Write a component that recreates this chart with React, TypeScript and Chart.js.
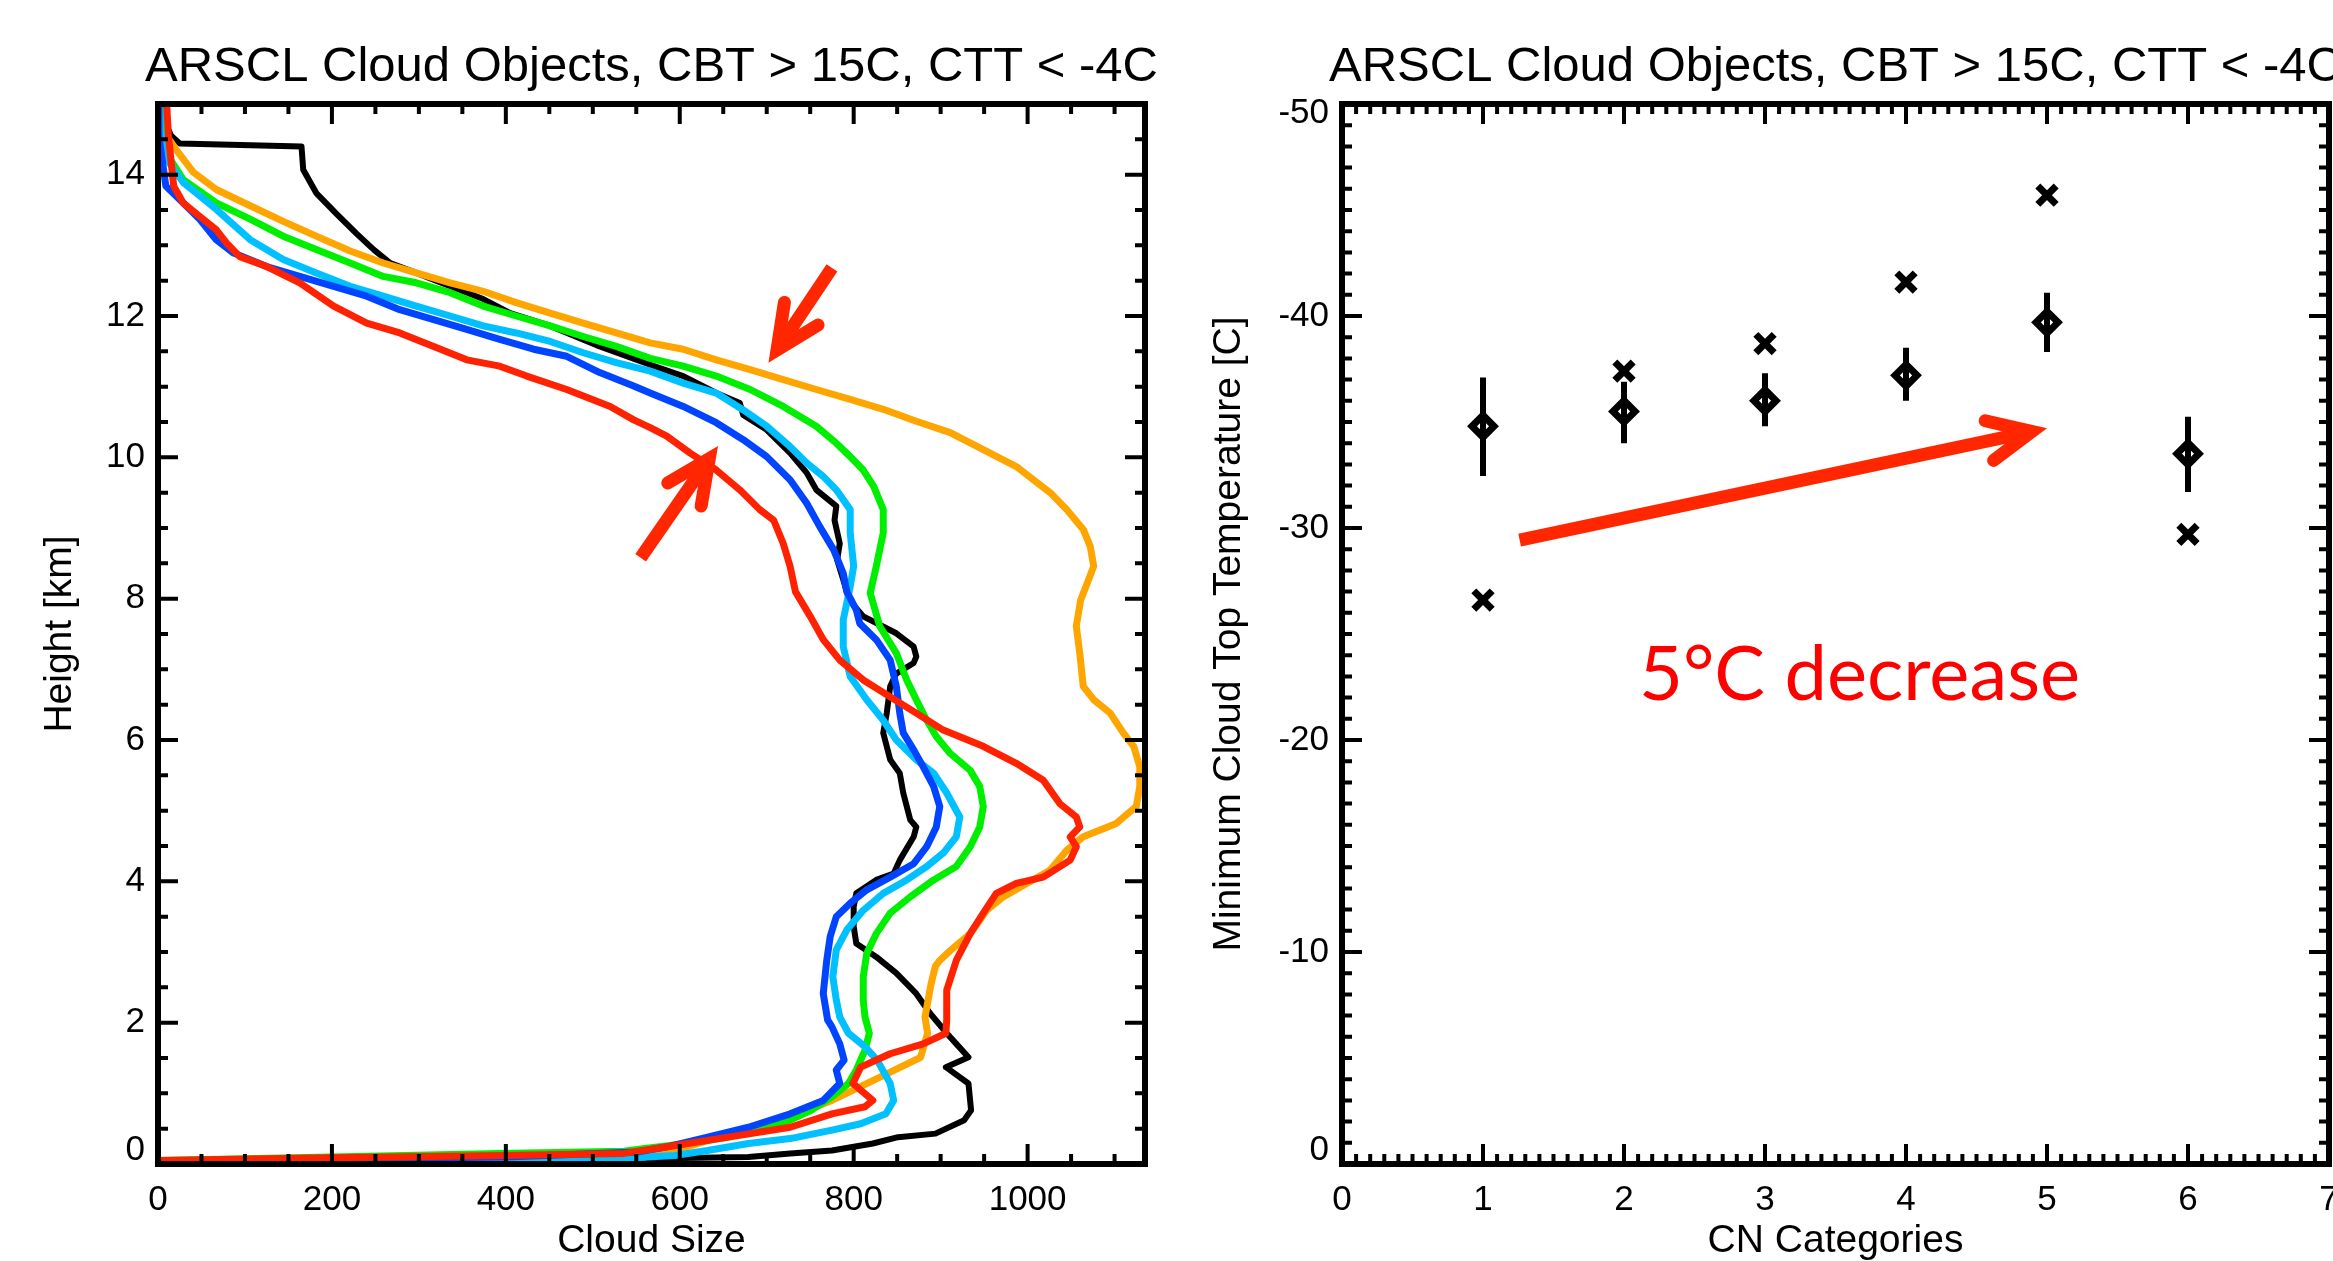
import React, { useEffect, useRef } from 'react';
import { Chart, registerables } from 'chart.js';

Chart.register(...registerables);

const FONT = '"Liberation Sans", Arial, Helvetica, sans-serif';
const PANEL_TITLE = 'ARSCL Cloud Objects, CBT > 15C, CTT < -4C';

// ---------- Left panel: cloud size profiles (size, height km) ----------
const blackSize = [3, 8, 15, 25, 165, 167, 182, 205, 228, 248, 267, 297, 336, 374, 405, 451, 508, 566, 604, 642, 669, 673, 700, 727, 746, 757, 780, 778, 784, 781, 788, 795, 811, 849, 869, 872, 869, 849, 842, 838, 834, 842, 853, 857, 865, 872, 869, 853, 846, 826, 803, 800, 800, 803, 826, 849, 872, 888, 907, 918, 932, 906, 932, 935, 927, 894, 851, 822, 775, 727, 679, 584, 300, 0];
const blackHeight = [15.0, 14.75, 14.55, 14.44, 14.40, 14.07, 13.74, 13.45, 13.17, 12.94, 12.75, 12.61, 12.42, 12.24, 12.04, 11.86, 11.57, 11.31, 11.15, 10.91, 10.77, 10.60, 10.39, 10.06, 9.78, 9.54, 9.31, 9.11, 8.78, 8.55, 8.27, 7.98, 7.75, 7.51, 7.32, 7.18, 7.09, 6.94, 6.76, 6.38, 6.10, 5.72, 5.53, 5.25, 4.87, 4.77, 4.63, 4.30, 4.11, 4.02, 3.83, 3.64, 3.36, 3.12, 2.93, 2.70, 2.41, 2.13, 1.85, 1.70, 1.51, 1.37, 1.14, 0.76, 0.62, 0.43, 0.38, 0.29, 0.19, 0.15, 0.10, 0.08, 0.05, 0.03];

const orangeSize = [6, 10, 21, 41, 67, 106, 144, 182, 221, 259, 297, 336, 374, 412, 451, 489, 527, 566, 604, 642, 681, 719, 757, 796, 834, 872, 911, 949, 987, 1007, 1026, 1045, 1064, 1072, 1076, 1068, 1061, 1056, 1060, 1064, 1076, 1095, 1110, 1122, 1129, 1129, 1125, 1102, 1064, 1045, 1026, 999, 972, 953, 934, 911, 899, 894, 889, 882, 885, 877, 822, 775, 727, 689, 632, 594, 560, 300, 0];
const orangeHeight = [15.0, 14.55, 14.35, 14.03, 13.79, 13.56, 13.34, 13.13, 12.92, 12.75, 12.61, 12.47, 12.35, 12.19, 12.04, 11.90, 11.76, 11.62, 11.53, 11.38, 11.24, 11.10, 10.96, 10.82, 10.68, 10.51, 10.35, 10.11, 9.87, 9.68, 9.50, 9.26, 8.98, 8.74, 8.46, 8.20, 7.98, 7.61, 7.23, 6.76, 6.57, 6.38, 6.10, 5.91, 5.62, 5.34, 5.06, 4.82, 4.63, 4.44, 4.16, 3.97, 3.78, 3.59, 3.26, 3.02, 2.88, 2.80, 2.55, 2.08, 1.85, 1.51, 1.18, 0.90, 0.67, 0.52, 0.33, 0.19, 0.10, 0.06, 0.04];

const greenSize = [4, 8, 14, 29, 67, 106, 144, 182, 221, 259, 297, 336, 374, 412, 451, 489, 527, 566, 604, 642, 681, 719, 757, 780, 796, 811, 823, 834, 834, 826, 819, 830, 849, 861, 872, 884, 895, 911, 934, 945, 949, 945, 934, 918, 892, 865, 842, 826, 815, 811, 811, 813, 818, 813, 803, 794, 775, 751, 727, 698, 656, 608, 560, 536, 393, 200, 0];
const greenHeight = [15.0, 14.6, 14.22, 13.93, 13.60, 13.37, 13.13, 12.94, 12.75, 12.56, 12.47, 12.33, 12.14, 12.00, 11.86, 11.71, 11.57, 11.40, 11.29, 11.15, 10.96, 10.72, 10.44, 10.20, 10.01, 9.82, 9.59, 9.26, 8.93, 8.46, 8.08, 7.61, 7.23, 6.85, 6.57, 6.28, 6.05, 5.81, 5.57, 5.34, 5.06, 4.77, 4.49, 4.21, 4.02, 3.78, 3.55, 3.26, 2.98, 2.65, 2.32, 2.08, 1.85, 1.61, 1.33, 1.14, 0.95, 0.76, 0.62, 0.52, 0.38, 0.29, 0.22, 0.18, 0.15, 0.10, 0.05];

const cyanSize = [2, 3, 10, 29, 48, 67, 106, 144, 182, 221, 259, 297, 336, 374, 412, 451, 489, 527, 566, 604, 642, 673, 700, 727, 746, 765, 780, 796, 796, 800, 796, 788, 788, 796, 815, 834, 849, 872, 892, 907, 922, 918, 903, 884, 861, 834, 811, 792, 780, 776, 780, 784, 794, 813, 827, 842, 846, 837, 808, 775, 727, 679, 632, 594, 536, 300, 0];
const cyanHeight = [15.0, 14.6, 14.22, 13.89, 13.70, 13.51, 13.08, 12.80, 12.61, 12.42, 12.28, 12.14, 12.00, 11.86, 11.76, 11.64, 11.48, 11.34, 11.22, 11.05, 10.91, 10.67, 10.44, 10.15, 9.92, 9.73, 9.54, 9.26, 8.93, 8.46, 8.17, 7.70, 7.32, 6.90, 6.57, 6.28, 6.00, 5.72, 5.53, 5.25, 4.91, 4.63, 4.40, 4.21, 4.02, 3.83, 3.59, 3.31, 3.03, 2.65, 2.32, 2.08, 1.85, 1.66, 1.47, 1.14, 0.90, 0.71, 0.57, 0.48, 0.36, 0.29, 0.19, 0.12, 0.08, 0.05, 0.04];

const blueSize = [0, 1, 9, 29, 48, 67, 87, 125, 163, 202, 240, 278, 317, 355, 393, 432, 470, 508, 547, 566, 604, 642, 673, 700, 727, 746, 761, 777, 788, 792, 803, 807, 826, 842, 849, 853, 857, 869, 880, 892, 899, 895, 884, 869, 842, 815, 796, 780, 773, 769, 765, 770, 775, 784, 789, 780, 784, 765, 727, 679, 632, 584, 551, 400, 0];
const blueHeight = [15.0, 14.55, 13.84, 13.60, 13.37, 13.08, 12.89, 12.70, 12.56, 12.42, 12.28, 12.09, 11.95, 11.81, 11.67, 11.53, 11.43, 11.20, 11.01, 10.91, 10.72, 10.49, 10.25, 10.01, 9.68, 9.35, 9.02, 8.69, 8.36, 8.10, 7.84, 7.65, 7.42, 7.13, 6.76, 6.38, 6.10, 5.86, 5.62, 5.34, 5.06, 4.77, 4.49, 4.25, 4.06, 3.88, 3.69, 3.50, 3.22, 2.88, 2.41, 2.04, 1.94, 1.70, 1.47, 1.33, 1.14, 0.90, 0.71, 0.52, 0.38, 0.24, 0.17, 0.10, 0.04];

const redSize = [10, 12, 18, 29, 48, 67, 79, 94, 125, 163, 202, 240, 278, 317, 355, 393, 424, 470, 520, 547, 566, 585, 612, 642, 669, 692, 708, 719, 727, 733, 750, 765, 784, 811, 842, 872, 903, 949, 987, 1018, 1037, 1056, 1060, 1049, 1056, 1049, 1018, 987, 964, 949, 934, 918, 907, 907, 906, 880, 842, 808, 799, 822, 813, 775, 727, 656, 584, 536, 400, 200, 0];
const redHeight = [15.0, 14.55, 13.84, 13.60, 13.41, 13.22, 13.03, 12.84, 12.70, 12.47, 12.14, 11.90, 11.76, 11.57, 11.38, 11.29, 11.15, 10.96, 10.72, 10.53, 10.42, 10.30, 10.06, 9.82, 9.54, 9.26, 9.11, 8.78, 8.45, 8.10, 7.75, 7.42, 7.13, 6.85, 6.61, 6.38, 6.14, 5.91, 5.67, 5.43, 5.10, 4.91, 4.77, 4.63, 4.49, 4.30, 4.06, 3.97, 3.83, 3.55, 3.26, 2.88, 2.46, 2.04, 1.85, 1.70, 1.56, 1.37, 1.14, 0.90, 0.81, 0.71, 0.52, 0.38, 0.24, 0.15, 0.12, 0.09, 0.05];

const leftXTicks = [0, 200, 400, 600, 800, 1000];
const leftYTicks = [0, 2, 4, 6, 8, 10, 12, 14];

// annotation arrows (data units of each panel)
const leftArrowTails = [[775, 12.68], [555, 8.58]];
const leftArrowTips = [[702, 11.34], [644, 10.16]];

// ---------- Right panel: CN categories ----------
const cnCategories = [1, 2, 3, 4, 5, 6];
const meanCTT = [-34.8, -35.5, -36.0, -37.2, -39.7, -33.5];
const errTop = [-37.1, -36.9, -37.3, -38.5, -41.1, -35.25];
const errBottom = [-32.45, -34.0, -34.8, -36.0, -38.3, -31.7];
const minCTT = [-26.6, -37.4, -38.7, -41.6, -45.7, -29.7];

const rightXTicks = [0, 1, 2, 3, 4, 5, 6, 7];
const rightYTicks = [-50, -40, -30, -20, -10, 0];

const rightArrowTails = [[1.26, -29.43]];
const rightArrowTips = [[5.0, -34.7]];

const noteText = '5°C decrease';
const notePos = [3.67, -21.88];

const ARROW_RED = '#ff2600';

function zip(xs: number[], ys: (number | null)[]) {
  return xs.map((x, i) => ({ x, y: ys[i] }));
}

function makeTitlePlugin(text: string) {
  return {
    id: 'panelTitle',
    afterDraw(chart: any) {
      const { ctx, chartArea: a } = chart;
      ctx.save();
      ctx.font = `49px ${FONT}`;
      ctx.fillStyle = '#000';
      ctx.textAlign = 'center';
      ctx.textBaseline = 'middle';
      ctx.fillText(text, (a.left + a.right) / 2, 67);
      ctx.restore();
    },
  };
}

// IDL-style y tick labels: kept inside the axis range at the ends
function makeYLabelPlugin(values: number[]) {
  return {
    id: 'yLabels',
    afterDraw(chart: any) {
      const { ctx, chartArea: a, scales } = chart;
      const ys = scales.y;
      ctx.save();
      ctx.font = `35px ${FONT}`;
      ctx.fillStyle = '#000';
      ctx.textAlign = 'right';
      ctx.textBaseline = 'middle';
      values.forEach((v) => {
        let py = ys.getPixelForValue(v);
        py = Math.max(a.top + 9, Math.min(a.bottom - 14, py));
        ctx.fillText(String(v), a.left - 13, py);
      });
      ctx.restore();
    },
  };
}

function makeFramePlugin(xMinor: number, yMinor: number, xMajor: number[], yMajor: number[]) {
  return {
    id: 'idlFrame',
    afterDatasetsDraw(chart: any) {
      const { ctx, chartArea: a, scales } = chart;
      const xs = scales.x;
      const ys = scales.y;
      const majorLen = 20;
      const minorLen = 10;
      ctx.save();
      ctx.strokeStyle = '#000';
      ctx.lineWidth = 4;
      ctx.lineCap = 'butt';
      const isMajor = (v: number, list: number[]) => list.some((m) => Math.abs(m - v) < 1e-6);
      const nx = Math.floor((xs.max - xs.min) / xMinor + 1e-6);
      for (let i = 0; i <= nx; i++) {
        const v = xs.min + i * xMinor;
        if (v > xs.max + 1e-9) break;
        const len = isMajor(v, xMajor) ? majorLen : minorLen;
        const px = xs.getPixelForValue(v);
        ctx.beginPath();
        ctx.moveTo(px, a.bottom);
        ctx.lineTo(px, a.bottom - len);
        ctx.moveTo(px, a.top);
        ctx.lineTo(px, a.top + len);
        ctx.stroke();
      }
      const lo = Math.min(ys.min, ys.max);
      const hi = Math.max(ys.min, ys.max);
      const ny = Math.floor((hi - lo) / yMinor + 1e-6);
      for (let i = 0; i <= ny; i++) {
        const v = lo + i * yMinor;
        const len = isMajor(v, yMajor) ? majorLen : minorLen;
        const py = ys.getPixelForValue(v);
        ctx.beginPath();
        ctx.moveTo(a.left, py);
        ctx.lineTo(a.left + len, py);
        ctx.moveTo(a.right, py);
        ctx.lineTo(a.right - len, py);
        ctx.stroke();
      }
      ctx.lineWidth = 6;
      ctx.strokeRect(a.left, a.top, a.right - a.left, a.bottom - a.top);
      ctx.restore();
    },
  };
}

function makeArrowPlugin(tails: number[][], tips: number[][]) {
  return {
    id: 'redArrows',
    afterDatasetsDraw(chart: any) {
      const { ctx, scales } = chart;
      const xs = scales.x;
      const ys = scales.y;
      const lw = 13;
      const th = (25 * Math.PI) / 180;
      const head = 48;
      ctx.save();
      ctx.strokeStyle = ARROW_RED;
      ctx.lineWidth = lw;
      tails.forEach((t, i) => {
        const tip = tips[i];
        const x0 = xs.getPixelForValue(t[0]);
        const y0 = ys.getPixelForValue(t[1]);
        const x1 = xs.getPixelForValue(tip[0]);
        const y1 = ys.getPixelForValue(tip[1]);
        const d = Math.hypot(x1 - x0, y1 - y0);
        const ux = (x1 - x0) / d;
        const uy = (y1 - y0) / d;
        const back = lw / 2 / Math.sin(th);
        const px = x1 - ux * back;
        const py = y1 - uy * back;
        ctx.lineCap = 'butt';
        ctx.beginPath();
        ctx.moveTo(x0, y0);
        ctx.lineTo(px - ux * 4, py - uy * 4);
        ctx.stroke();
        const bx = -ux;
        const by = -uy;
        const c = Math.cos(th);
        const s = Math.sin(th);
        const a1x = px + (bx * c - by * s) * head;
        const a1y = py + (bx * s + by * c) * head;
        const a2x = px + (bx * c + by * s) * head;
        const a2y = py + (-bx * s + by * c) * head;
        ctx.lineCap = 'round';
        ctx.lineJoin = 'miter';
        ctx.miterLimit = 10;
        ctx.beginPath();
        ctx.moveTo(a1x, a1y);
        ctx.lineTo(px, py);
        ctx.lineTo(a2x, a2y);
        ctx.stroke();
      });
      ctx.restore();
    },
  };
}

function makeNotePlugin() {
  return {
    id: 'noteText',
    afterDatasetsDraw(chart: any) {
      const { ctx, scales } = chart;
      const cx = scales.x.getPixelForValue(notePos[0]);
      const by = scales.y.getPixelForValue(notePos[1]);
      ctx.save();
      ctx.font = '75px Lato, "Open Sans", sans-serif';
      const w = ctx.measureText(noteText).width;
      const size = (75 * 441) / w;
      ctx.font = `${size.toFixed(1)}px Lato, "Open Sans", sans-serif`;
      ctx.fillStyle = '#ff0000';
      ctx.textAlign = 'center';
      ctx.textBaseline = 'alphabetic';
      ctx.fillText(noteText, cx, by);
      ctx.restore();
    },
  };
}

const tickFont = { family: FONT, size: 35, lineHeight: 1.2 };
const axisTitleFont = { family: FONT, size: 39, lineHeight: 1.2 };

function leftConfig(): any {
  const line = (xs: number[], ys: number[], color: string, w: number) => ({
    data: zip(xs, ys),
    showLine: true,
    borderColor: color,
    backgroundColor: color,
    borderWidth: w,
    pointRadius: 0,
    tension: 0,
    borderJoinStyle: 'round',
  });
  return {
    type: 'scatter',
    data: {
      datasets: [
        line(redSize, redHeight, '#ff2200', 7),
        line(blueSize, blueHeight, '#0044ff', 7),
        line(cyanSize, cyanHeight, '#00c0ff', 7),
        line(greenSize, greenHeight, '#00ee00', 7),
        line(orangeSize, orangeHeight, '#ffa500', 7),
        line(blackSize, blackHeight, '#000000', 6),
      ],
    },
    options: {
      responsive: false,
      animation: false,
      events: [],
      layout: { padding: { left: 0, right: 155, top: 104, bottom: 0 } },
      plugins: {
        legend: { display: false },
        tooltip: { enabled: false },
        title: { display: false },
      },
      scales: {
        x: {
          type: 'linear',
          min: 0,
          max: 1135,
          grid: { display: false, drawTicks: false },
          border: { display: false },
          ticks: { color: '#000', font: tickFont, padding: 15, maxRotation: 0, autoSkip: false, callback: (v: any) => String(v) },
          afterBuildTicks: (s: any) => {
            s.ticks = leftXTicks.map((v) => ({ value: v }));
          },
          afterFit: (s: any) => {
            s.height = 97;
            s.paddingLeft = 0;
            s.paddingRight = 0;
          },
          title: { display: true, text: 'Cloud Size', color: '#000', font: { family: FONT, size: 39, lineHeight: 1 }, padding: 0 },
        },
        y: {
          type: 'linear',
          min: 0,
          max: 15,
          grid: { display: false, drawTicks: false },
          border: { display: false },
          ticks: { display: false },
          afterBuildTicks: (s: any) => {
            s.ticks = leftYTicks.map((v) => ({ value: v }));
          },
          afterFit: (s: any) => {
            s.width = 158;
            s.paddingTop = 0;
            s.paddingBottom = 0;
          },
          title: { display: true, text: 'Height [km]', color: '#000', font: axisTitleFont, padding: { top: 37, bottom: 0 } },
        },
      },
    },
    plugins: [
      makeFramePlugin(50, 0.5, leftXTicks, leftYTicks),
      makeArrowPlugin(leftArrowTails, leftArrowTips),
      makeTitlePlugin(PANEL_TITLE),
      makeYLabelPlugin(leftYTicks),
    ],
  };
}

function rightConfig(): any {
  const bars = cnCategories.flatMap((c, i) => [
    { x: c, y: errTop[i] },
    { x: c, y: errBottom[i] },
    { x: c, y: null },
  ]);
  return {
    type: 'scatter',
    data: {
      datasets: [
        {
          data: zip(cnCategories, meanCTT),
          pointStyle: 'rectRot',
          pointRadius: 11,
          borderWidth: 7,
          borderColor: '#000',
          backgroundColor: 'rgba(0,0,0,0)',
        },
        {
          data: zip(cnCategories, minCTT),
          pointStyle: 'crossRot',
          pointRadius: 13,
          borderWidth: 7,
          borderColor: '#000',
          backgroundColor: '#000',
        },
        {
          data: bars,
          showLine: true,
          spanGaps: false,
          pointRadius: 0,
          borderWidth: 6,
          borderColor: '#000',
        },
      ],
    },
    options: {
      responsive: false,
      animation: false,
      events: [],
      layout: { padding: { left: 0, right: 162, top: 104, bottom: 0 } },
      plugins: {
        legend: { display: false },
        tooltip: { enabled: false },
        title: { display: false },
      },
      scales: {
        x: {
          type: 'linear',
          min: 0,
          max: 7,
          grid: { display: false, drawTicks: false },
          border: { display: false },
          ticks: { color: '#000', font: tickFont, padding: 15, maxRotation: 0, autoSkip: false, callback: (v: any) => String(v) },
          afterBuildTicks: (s: any) => {
            s.ticks = rightXTicks.map((v) => ({ value: v }));
          },
          afterFit: (s: any) => {
            s.height = 97;
            s.paddingLeft = 0;
            s.paddingRight = 0;
          },
          title: { display: true, text: 'CN Categories', color: '#000', font: { family: FONT, size: 39, lineHeight: 1 }, padding: 0 },
        },
        y: {
          type: 'linear',
          min: -50,
          max: 0,
          reverse: true,
          grid: { display: false, drawTicks: false },
          border: { display: false },
          ticks: { display: false },
          afterBuildTicks: (s: any) => {
            s.ticks = rightYTicks.map((v) => ({ value: v }));
          },
          afterFit: (s: any) => {
            s.width = 162;
            s.paddingTop = 0;
            s.paddingBottom = 0;
          },
          title: {
            display: true,
            text: 'Minimum Cloud Top Temperature [C]',
            color: '#000',
            font: axisTitleFont,
            padding: { top: 26, bottom: 0 },
          },
        },
      },
    },
    plugins: [
      makeFramePlugin(0.1, 1, rightXTicks, rightYTicks),
      makeArrowPlugin(rightArrowTails, rightArrowTips),
      makeNotePlugin(),
      makeTitlePlugin(PANEL_TITLE),
      makeYLabelPlugin(rightYTicks),
    ],
  };
}

export default function App() {
  const leftRef = useRef<HTMLCanvasElement>(null);
  const rightRef = useRef<HTMLCanvasElement>(null);

  useEffect(() => {
    const c1 = new Chart(leftRef.current as HTMLCanvasElement, leftConfig());
    const c2 = new Chart(rightRef.current as HTMLCanvasElement, rightConfig());
    return () => {
      c1.destroy();
      c2.destroy();
    };
  }, []);

  return (
    <div
      style={{
        position: 'fixed',
        left: 0,
        top: 0,
        width: 2333,
        height: 1261,
        overflow: 'hidden',
        background: '#ffffff',
      }}
    >
      <canvas
        ref={leftRef}
        width={1300}
        height={1261}
        style={{ position: 'absolute', left: 0, top: 0, width: 1300, height: 1261 }}
      />
      <canvas
        ref={rightRef}
        width={1311}
        height={1261}
        style={{ position: 'absolute', left: 1180, top: 0, width: 1311, height: 1261 }}
      />
    </div>
  );
}
